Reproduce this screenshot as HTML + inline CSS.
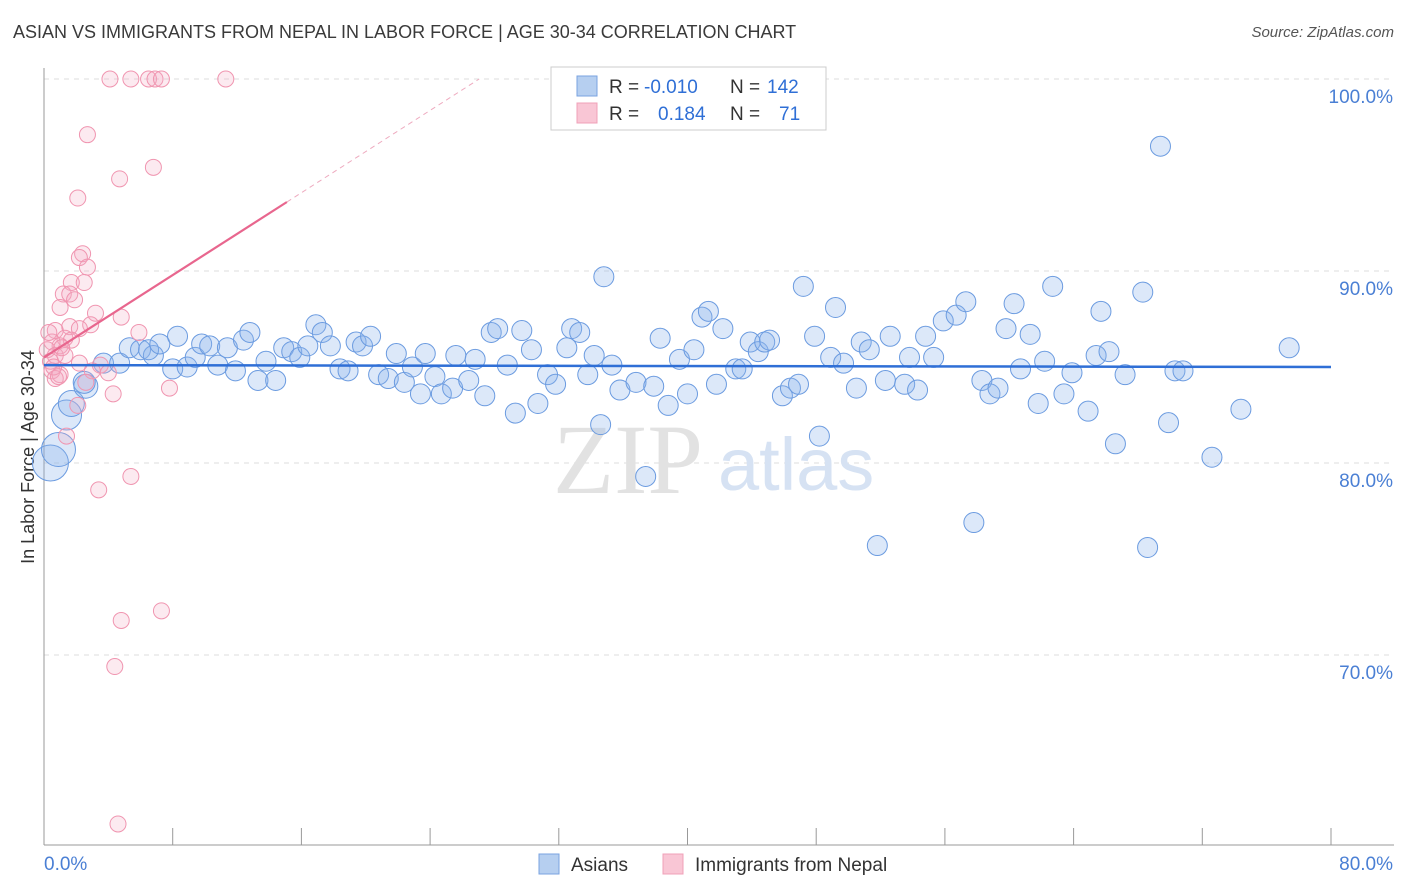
<!DOCTYPE html>
<html><head><meta charset="utf-8">
<style>
body{margin:0;background:#fff;font-family:"Liberation Sans",sans-serif;}
#wrap{position:relative;width:1406px;height:892px;overflow:hidden;}
.t{position:absolute;white-space:nowrap;}
</style></head>
<body>
<div id="wrap">
<div class="t" style="left:13px;top:22px;font-size:18px;color:#3a3a3a;">ASIAN VS IMMIGRANTS FROM NEPAL IN LABOR FORCE | AGE 30-34 CORRELATION CHART</div>
<div class="t" style="right:12px;top:24px;font-size:15px;color:#555;font-style:italic;">Source: ZipAtlas.com</div>
<svg id="svg" width="1406" height="892" style="position:absolute;left:0;top:0"></svg>
</div>
<script>
const yTicks=[100,90,80,70];
const xTickLabels=["0.0%","80.0%"];
const blueX=[0.4,0.9,1.4,1.7,2.6,2.5,3.7,4.7,5.3,6.0,6.8,6.5,7.2,8.0,8.3,8.9,9.4,9.8,10.3,10.8,11.4,11.9,12.4,12.8,13.3,13.8,14.4,14.9,15.4,15.9,16.4,16.9,17.3,17.8,18.4,18.9,19.4,19.8,20.3,20.8,21.4,21.9,22.4,22.9,23.4,23.7,24.3,24.7,25.4,25.6,26.4,26.8,27.4,27.8,28.2,28.8,29.3,29.7,30.3,30.7,31.3,31.8,32.5,32.8,33.3,33.8,34.2,34.6,34.8,35.3,35.8,36.8,37.4,37.9,38.3,38.8,39.5,40.0,40.4,40.9,41.3,41.8,42.2,43.0,43.4,43.9,44.4,44.8,45.1,45.9,46.4,46.9,47.2,47.9,48.2,48.9,49.2,49.7,50.5,50.8,51.3,51.8,52.3,52.6,53.5,53.8,54.3,54.8,55.3,55.9,56.7,57.3,57.8,58.3,58.8,59.3,59.8,60.3,60.7,61.3,61.8,62.2,62.7,63.4,63.9,64.9,65.4,65.7,66.2,66.6,67.2,68.3,68.6,69.4,69.9,70.3,70.8,72.6,74.4,77.4];
const blueY=[80.0,80.7,82.5,83.1,84.0,84.2,85.2,85.2,86.0,85.9,85.6,85.9,86.2,84.9,86.6,85.0,85.5,86.2,86.1,85.1,86.0,84.8,86.4,86.8,84.3,85.3,84.3,86.0,85.8,85.5,86.1,87.2,86.8,86.1,84.9,84.8,86.3,86.1,86.6,84.6,84.4,85.7,84.2,85.0,83.6,85.7,84.5,83.6,83.9,85.6,84.3,85.4,83.5,86.8,87.0,85.1,82.6,86.9,85.9,83.1,84.6,84.1,86.0,87.0,86.8,84.6,85.6,82.0,89.7,85.1,83.8,84.2,79.3,84.0,86.5,83.0,85.4,83.6,85.9,87.6,87.9,84.1,87.0,84.9,84.9,86.3,85.8,86.3,86.4,83.5,83.9,84.1,89.2,86.6,81.4,85.5,88.1,85.2,83.9,86.3,85.9,75.7,84.3,86.6,84.1,85.5,83.8,86.6,85.5,87.4,87.7,88.4,76.9,84.3,83.6,83.9,87.0,88.3,84.9,86.7,83.1,85.3,89.2,83.6,84.7,82.7,85.6,87.9,85.8,81.0,84.6,88.9,75.6,96.5,82.1,84.8,84.8,80.3,82.8,86.0];
const blueR=[18,17,15,13,12,11];
const pinkX=[4.1,5.4,6.5,6.9,7.3,11.3,2.7,4.7,6.8,2.1,2.4,2.2,2.7,1.7,2.5,1.2,1.6,1.9,1.0,3.2,4.8,2.9,1.6,2.2,0.7,5.9,1.3,1.7,0.5,1.0,0.2,0.7,1.3,0.4,2.2,3.5,0.5,1.0,0.7,3.0,4.0,2.6,7.8,4.3,2.1,1.4,3.4,5.4,7.3,4.8,4.4,4.6,0.3,0.6,0.9,1.1];
const pinkY=[100,100,100,100,100,100,97.1,94.8,95.4,93.8,90.9,90.7,90.2,89.4,89.4,88.8,88.8,88.5,88.1,87.8,87.6,87.2,87.1,87.0,86.9,86.8,86.5,86.4,86.3,86.1,85.9,85.6,85.6,85.3,85.2,85.1,84.8,84.6,84.4,84.8,84.7,84.2,83.9,83.6,83.0,81.4,78.6,79.3,72.3,71.8,69.4,61.2,86.8,85.0,84.5,86.0];
const blueTrend=[85.1,85.0];
const pinkTrend=[85.5,0.536];
const X0=44,X1=1331,Y100=79,PX10=192;
const sx=v=>X0+(v/80)*(X1-X0);
const sy=v=>Y100+(100-v)*PX10/10;
const NS="http://www.w3.org/2000/svg";
const svg=document.getElementById('svg');
function mk(tag,a,p){const e=document.createElementNS(NS,tag);for(const k in a)e.setAttribute(k,a[k]);(p||svg).appendChild(e);return e;}
yTicks.forEach(t=>{
  const g=mk('line',{x1:X0,x2:1394,y1:sy(t),y2:sy(t),stroke:'#ddd','stroke-dasharray':'5,5'});
  
  
  const tx=mk('text',{x:1393,y:sy(t)+24,'text-anchor':'end','font-size':19,fill:'#4a7fd4'});
  tx.textContent=t.toFixed(1)+'%';
  
  
});
const ax=mk('line',{x1:X0,x2:X0,y1:68,y2:845,stroke:'#999'});


const bx=mk('line',{x1:X0,x2:1394,y1:845,y2:845,stroke:'#999'});


for(let i=0;i<=10;i++){const v=i*8;const tk=mk('line',{x1:sx(v),x2:sx(v),y1:828,y2:845,stroke:'#999'});
  
  }
const xl0=mk('text',{x:44,y:870,'font-size':19,fill:'#4a7fd4'});xl0.textContent=xTickLabels[0];


const xl1=mk('text',{x:1393,y:870,'text-anchor':'end','font-size':19,fill:'#4a7fd4'});xl1.textContent=xTickLabels[1];


const yt=mk('text',{x:34,y:457,'text-anchor':'middle','font-size':18,fill:'#333',transform:'rotate(-90 34 457)'});yt.textContent='In Labor Force | Age 30-34';


const w1=mk('text',{x:553,y:493,'font-size':100,fill:'#e2e2e2','font-family':'Liberation Serif'});w1.textContent='ZIP';


const w2=mk('text',{x:718,y:490,'font-size':74,fill:'#d6e2f3'});w2.textContent='atlas';


blueX.forEach((v,i)=>{const c=mk('circle',{cx:sx(v),cy:sy(blueY[i]),r:blueR[i]||10,fill:'rgba(140,180,235,0.3)',stroke:'#6b9be0','stroke-width':1});
  
  });
pinkX.forEach((v,i)=>{const c=mk('circle',{cx:sx(v),cy:sy(pinkY[i]),r:8,fill:'rgba(245,170,195,0.25)',stroke:'#f095b0','stroke-width':1});
  
  });
const bl=mk('line',{x1:sx(0),x2:sx(80),y1:sy(blueTrend[0]),y2:sy(blueTrend[1]),stroke:'#2f6fd6','stroke-width':2.5});


const pf=x=>pinkTrend[0]+pinkTrend[1]*x;
const pl=mk('line',{x1:sx(0),x2:sx(15.1),y1:sy(pf(0)),y2:sy(pf(15.1)),stroke:'#e8668e','stroke-width':2.2});


const xe=(100-pinkTrend[0])/pinkTrend[1];
const pd=mk('line',{x1:sx(15.1),x2:sx(xe),y1:sy(pf(15.1)),y2:sy(100),stroke:'#eeaabf','stroke-width':1,'stroke-dasharray':'5,4'});


const lg=mk('rect',{x:551,y:67,width:275,height:63,fill:'#fff',stroke:'#ccc'});


[[0,'#b6cff0','#7aa3e0','-0.010','142'],[1,'#f9c6d5','#f0a0b8','0.184','71']].forEach(r=>{
  const y=86+r[0]*27;
  const s=mk('rect',{x:577,y:y-10,width:20,height:20,fill:r[1],stroke:r[2]});
  
  
  const t=mk('text',{x:609,y:y+7,'font-size':19,fill:'#333'});
  t.innerHTML='R = <tspan fill="#2f6fd6" x="'+(r[0]?658:644)+'">'+r[3]+'</tspan><tspan fill="#333" x="730">N =</tspan><tspan fill="#2f6fd6" x="'+(r[0]?779:767)+'">'+r[4]+'</tspan>';
  
  
});
[[539,'#b6cff0','#7aa3e0','Asians',571],[663,'#f9c6d5','#f0a0b8','Immigrants from Nepal',695]].forEach(r=>{
  const s=mk('rect',{x:r[0],y:854,width:20,height:20,fill:r[1],stroke:r[2]});
  
  
  const t=mk('text',{x:r[4],y:871,'font-size':19,fill:'#333'});t.textContent=r[3];
  
  
});
</script>
</body></html>
